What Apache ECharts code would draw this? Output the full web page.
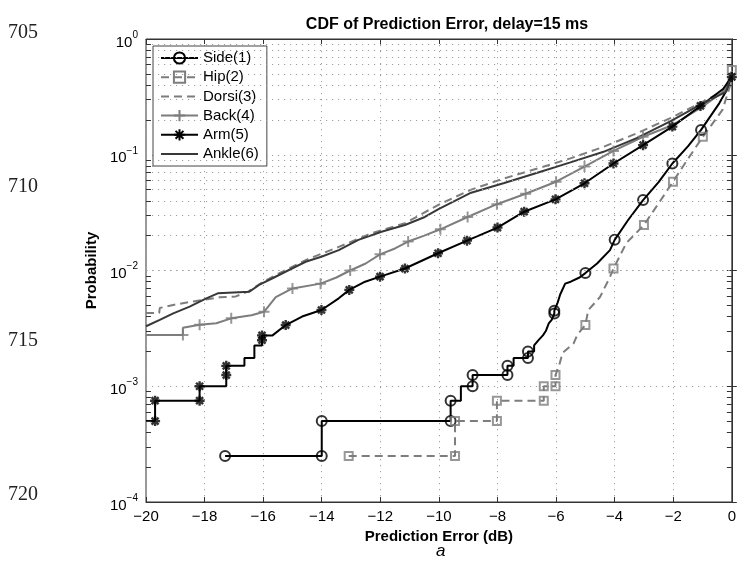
<!DOCTYPE html>
<html><head><meta charset="utf-8">
<script src="https://cdn.jsdelivr.net/npm/echarts@6/dist/echarts.min.js"></script>
<style>html,body{margin:0;padding:0;background:#fff}#c{width:739px;height:561px}</style>
</head><body><div id="c"></div>
<script>
// ---------- data (x = prediction error in dB, y = probability) ----------
const xTickValues = [-20,-18,-16,-14,-12,-10,-8,-6,-4,-2,0];
const yDecades = [1e-4,1e-3,1e-2,1e-1,1];
const lineNumbers = ['705','710','715','720'];

const sideLine = [[-17.3,2.5e-4],[-14.0,2.5e-4],[-14.0,5e-4],[-9.6,5e-4],[-9.6,7.5e-4],[-9.25,7.5e-4],[-9.25,1e-3],[-8.85,1e-3],[-8.85,1.25e-3],[-7.66,1.25e-3],[-7.66,1.5e-3],[-7.45,1.5e-3],[-7.45,1.75e-3],[-6.96,1.75e-3],[-6.96,2e-3],[-6.75,2e-3],[-6.75,2.25e-3],[-6.6,2.5e-3],[-6.45,2.75e-3],[-6.35,3e-3],[-6.25,3.5e-3],[-6.15,3.75e-3],[-6.06,4.25e-3],[-6.06,4.5e-3],[-5.95,5.25e-3],[-5.86,6.2e-3],[-5.69,7.7e-3],[-5.5,8e-3],[-5.2,8.7e-3],[-5.0,9.5e-3],[-4.6,1.15e-2],[-4.16,1.5e-2],[-4.0,1.84e-2],[-3.54,2.73e-2],[-3.03,4.06e-2],[-2.5,5.8e-2],[-2.03,8.4e-2],[-1.5,0.118],[-1.05,0.164],[-0.43,0.278],[-0.11,0.387],[0,0.52]];
const sideMarks = [[-17.3,2.5e-4],[-14,2.5e-4],[-14,5e-4],[-9.6,5e-4],[-9.6,7.5e-4],[-8.85,1e-3],[-8.85,1.25e-3],[-7.66,1.25e-3],[-7.66,1.5e-3],[-6.96,1.75e-3],[-6.96,2e-3],[-6.06,4.25e-3],[-6.06,4.5e-3],[-5.0,9.5e-3],[-4.0,1.84e-2],[-3.03,4.06e-2],[-2.03,8.4e-2],[-1.05,0.164]];

const hipLine = [[-13.08,2.5e-4],[-9.45,2.5e-4],[-9.45,5e-4],[-8.02,5e-4],[-8.02,7.5e-4],[-6.42,7.5e-4],[-6.42,1e-3],[-6.02,1e-3],[-6.02,1.25e-3],[-5.9,1.5e-3],[-5.78,1.94e-3],[-5.4,2.35e-3],[-5.28,2.77e-3],[-5.0,3.38e-3],[-4.9,4.55e-3],[-4.5,5.9e-3],[-4.16,8.8e-3],[-4.04,1.04e-2],[-3.6,1.73e-2],[-3.0,2.47e-2],[-2.5,3.8e-2],[-2.01,5.85e-2],[-1.5,9.2e-2],[-0.99,0.143],[-0.32,0.244],[-0.05,0.4],[0,0.54]];
const hipMarks = [[-13.08,2.5e-4],[-9.45,2.5e-4],[-9.45,5e-4],[-8.02,5e-4],[-8.02,7.5e-4],[-6.42,7.5e-4],[-6.42,1e-3],[-6.02,1e-3],[-6.02,1.25e-3],[-5.0,3.38e-3],[-4.04,1.04e-2],[-3.0,2.47e-2],[-2.01,5.85e-2],[-0.99,0.143],[0,0.54]];

const dorsiLine = [[-20,4.3e-3],[-19.55,4.3e-3],[-19.53,4.74e-3],[-19.07,5.04e-3],[-18.4,5.4e-3],[-17.49,5.87e-3],[-16.93,5.97e-3],[-16.5,6.6e-3],[-16.0,8.0e-3],[-15.46,9.46e-3],[-14.55,1.23e-2],[-13.42,1.6e-2],[-12.29,2.1e-2],[-11.16,2.56e-2],[-10.03,3.68e-2],[-8.9,5.0e-2],[-7.77,6.25e-2],[-6.64,7.6e-2],[-5.51,9.3e-2],[-4.38,0.117],[-3.25,0.153],[-2.12,0.206],[-0.99,0.287],[-0.25,0.36],[0,0.5]];

const backLine = [[-20,2.77e-3],[-18.74,2.77e-3],[-18.74,3.2e-3],[-18.17,3.4e-3],[-17.6,3.5e-3],[-17.09,3.86e-3],[-16.4,4.1e-3],[-15.97,4.4e-3],[-15.57,5.9e-3],[-15.0,7.0e-3],[-14.04,7.7e-3],[-13.5,8.7e-3],[-13.03,1.0e-2],[-12.5,1.15e-2],[-12.01,1.38e-2],[-11.5,1.55e-2],[-11.05,1.78e-2],[-10.5,2.0e-2],[-9.95,2.27e-2],[-9.02,2.9e-2],[-8.02,3.74e-2],[-7.04,4.6e-2],[-6.0,5.85e-2],[-5.03,7.9e-2],[-4.04,0.108],[-3.03,0.143],[-2.03,0.18],[-1.0,0.26],[-0.3,0.35],[0,0.5]];
const backMarks = [[-18.74,2.77e-3],[-18.17,3.4e-3],[-17.09,3.86e-3],[-15.97,4.4e-3],[-15.0,7.0e-3],[-14.04,7.7e-3],[-13.03,1.0e-2],[-12.01,1.38e-2],[-11.05,1.78e-2],[-9.95,2.27e-2],[-9.02,2.9e-2],[-8.02,3.74e-2],[-7.04,4.6e-2],[-6.0,5.85e-2],[-5.03,7.9e-2],[-4.04,0.108],[-3.03,0.143]];

const armLine = [[-20,5e-4],[-19.69,5e-4],[-19.69,7.5e-4],[-18.17,7.5e-4],[-18.17,1e-3],[-17.26,1e-3],[-17.26,1.5e-3],[-16.64,1.5e-3],[-16.64,1.75e-3],[-16.3,1.75e-3],[-16.3,2.25e-3],[-16.04,2.25e-3],[-16.04,2.75e-3],[-15.68,2.75e-3],[-15.23,3.38e-3],[-14.67,4e-3],[-14.01,4.56e-3],[-13.42,5.75e-3],[-13.06,6.8e-3],[-12.52,8e-3],[-12.01,8.85e-3],[-11.16,1.04e-2],[-10.03,1.41e-2],[-9.04,1.81e-2],[-8.0,2.35e-2],[-7.09,3.22e-2],[-6.02,4.12e-2],[-5.03,5.67e-2],[-4.04,8.4e-2],[-3.03,0.121],[-2.03,0.175],[-1.07,0.264],[-0.3,0.37],[0,0.47]];
const armMarks = [[-19.69,5e-4],[-19.69,7.5e-4],[-18.17,7.5e-4],[-18.17,1e-3],[-17.26,1.25e-3],[-17.26,1.5e-3],[-16.04,2.5e-3],[-16.04,2.75e-3],[-15.23,3.38e-3],[-14.01,4.56e-3],[-13.06,6.8e-3],[-12.01,8.85e-3],[-11.16,1.04e-2],[-10.03,1.41e-2],[-9.04,1.81e-2],[-8.0,2.35e-2],[-7.09,3.22e-2],[-6.02,4.12e-2],[-5.03,5.67e-2],[-4.04,8.4e-2],[-3.03,0.121],[-2.03,0.175],[-1.07,0.264],[0,0.47]];

const ankleLine = [[-20,3.3e-3],[-19.53,3.74e-3],[-19.07,4.26e-3],[-18.51,4.87e-3],[-17.94,5.75e-3],[-17.55,6.35e-3],[-16.47,6.56e-3],[-16.14,7.5e-3],[-15.68,8.57e-3],[-15.12,1.01e-2],[-14.55,1.19e-2],[-13.99,1.32e-2],[-13.42,1.5e-2],[-12.75,1.84e-2],[-11.96,2.16e-2],[-11.16,2.47e-2],[-10.48,2.9e-2],[-10.03,3.38e-2],[-8.9,4.7e-2],[-7.77,5.7e-2],[-6.64,7.0e-2],[-5.51,8.6e-2],[-4.38,0.106],[-3.25,0.139],[-2.12,0.193],[-0.99,0.278],[-0.2,0.35],[0,0.5]];

// ---------- styling / assembly ----------
const GRAY = '#7d7d7d';
const PLUS = 'path://M5,0L5,10M0,5L10,5';
const STAR = 'path://M5,0L5,10M0,5L10,5M1.5,1.5L8.5,8.5M1.5,8.5L8.5,1.5';
const defs = [
  {name:'Side(1)', line:sideLine, marks:sideMarks, color:'#000', type:'solid', symbol:'circle', size:10, bw:2},
  {name:'Hip(2)', line:hipLine, marks:hipMarks, color:GRAY, type:[8,5], symbol:'rect', size:8, bw:2},
  {name:'Dorsi(3)', line:dorsiLine, marks:null, color:GRAY, type:[8,5], symbol:'none', size:0, bw:0},
  {name:'Back(4)', line:backLine, marks:backMarks, color:GRAY, type:'solid', symbol:PLUS, size:11, bw:2},
  {name:'Arm(5)', line:armLine, marks:armMarks, color:'#000', type:'solid', symbol:STAR, size:10, bw:2.4},
  {name:'Ankle(6)', line:ankleLine, marks:null, color:'#383838', type:'solid', symbol:'none', size:0, bw:0}
];
const FONT = 'Liberation Sans, Arial, sans-serif';
const series = [];

// minor log grid + minor ticks (drawn through the y axis scale)
const minorVals = [];
for (let e = -4; e <= -1; e++) for (let k = 2; k <= 9; k++) minorVals.push(k * Math.pow(10, e));
const mlData = [];
minorVals.forEach(v => mlData.push({yAxis: v}));
minorVals.forEach(v => {
  mlData.push([{coord:[-20, v]}, {coord:[-19.83, v], lineStyle:{color:'#333', width:1, type:'solid'}}]);
  mlData.push([{coord:[0, v]}, {coord:[-0.17, v], lineStyle:{color:'#333', width:1, type:'solid'}}]);
});
series.push({type:'line', name:'__grid', data:[], silent:true, z:1,
  markLine:{silent:true, symbol:['none','none'], label:{show:false}, animation:false,
    lineStyle:{color:'#a0a0a0', width:1, type:[1.2,4.8]}, data: mlData}});

defs.forEach(d => {
  const transparent = 'rgba(0,0,0,0)';
  series.push({
    type:'line', name:d.name, data:d.line, showSymbol:false,
    symbol: d.symbol === 'none' ? 'circle' : d.symbol, symbolSize:d.size,
    lineStyle:{color:d.color, width:2, type:d.type},
    itemStyle:{color:transparent, borderColor: d.symbol === 'none' ? transparent : d.color, borderWidth:d.bw},
    emphasis:{disabled:true}, animation:false, z:3, clip:true
  });
  if (d.marks) {
    series.push({
      type:'scatter', name:d.name, data:d.marks, symbol:d.symbol, symbolSize:d.size,
      itemStyle:{color:transparent, borderColor:d.color, borderWidth:d.bw},
      emphasis:{disabled:true}, animation:false, z:4, silent:true
    });
  }
});

function supLabel(v){
  const e = Math.round(Math.log10(v));
  return '{b|10}{e|' + (e < 0 ? '\u2212' + (-e) : e) + '}';
}

const chart = echarts.init(document.getElementById('c'), null, {renderer:'canvas'});
chart.setOption({
  backgroundColor:'#fff',
  animation:false,
  textStyle:{fontFamily:FONT},
  title:{text:'CDF of Prediction Error, delay=15 ms', left:442, top:12, textAlign:'center',
    textStyle:{fontFamily:FONT, fontSize:16, fontWeight:'bold', color:'#000'}},
  legend:{data:defs.map(d => d.name), orient:'vertical', left:153, top:46,
    padding:[4,8,4,7], itemWidth:37, itemHeight:14, itemGap:3.2, selectedMode:false,
    borderColor:'#444', borderWidth:1, backgroundColor:'#fff',
    textStyle:{fontFamily:FONT, fontSize:15, lineHeight:16, color:'#000'}},
  grid:{left:146, right:3, top:39, bottom:59, show:true, borderColor:'#333', borderWidth:1, backgroundColor:'#fff'},
  xAxis:[
    {type:'value', min:-20, max:0, interval:2, position:'bottom',
     name:'Prediction Error (dB)', nameLocation:'middle', nameGap:27,
     nameTextStyle:{fontFamily:FONT, fontSize:15, fontWeight:'bold', color:'#000'},
     axisLine:{show:true, lineStyle:{color:'#333'}},
     axisTick:{show:true, inside:true, length:5, lineStyle:{color:'#333'}},
     axisLabel:{fontFamily:FONT, fontSize:15, color:'#000', margin:7,
       formatter: v => v < 0 ? '\u2212' + (-v) : String(v)},
     splitLine:{show:true, lineStyle:{color:'#a0a0a0', width:1, type:[1.2,4.8]}}},
    {type:'value', min:-20, max:0, interval:2, position:'top',
     axisLine:{show:true, lineStyle:{color:'#333'}},
     axisTick:{show:true, inside:true, length:5, lineStyle:{color:'#333'}},
     axisLabel:{show:false}, splitLine:{show:false}}
  ],
  yAxis:[
    {type:'log', logBase:10, min:1e-4, max:1, splitNumber:4, position:'left',
     name:'Probability', nameLocation:'middle', nameGap:30, nameRotate:90,
     nameTextStyle:{fontFamily:FONT, fontSize:15, fontWeight:'bold', color:'#000'},
     axisLine:{show:true, lineStyle:{color:'#333'}},
     axisTick:{show:true, inside:true, length:5, lineStyle:{color:'#333'}},
     axisLabel:{margin:8, formatter:supLabel,
       rich:{b:{fontFamily:FONT, fontSize:15, color:'#000', verticalAlign:'bottom', lineHeight:22},
             e:{fontFamily:FONT, fontSize:10, color:'#000', verticalAlign:'bottom', lineHeight:22, padding:[0,0,10,0]}}},
     splitLine:{show:true, lineStyle:{color:'#a0a0a0', width:1, type:[1.2,4.8]}}},
    {type:'log', logBase:10, min:1e-4, max:1, splitNumber:4, position:'right',
     axisLine:{show:true, lineStyle:{color:'#333'}},
     axisTick:{show:true, inside:true, length:5, lineStyle:{color:'#333'}},
     axisLabel:{show:false}, splitLine:{show:false}}
  ],
  graphic: lineNumbers.map((t, i) => ({type:'text', left:8, top:23 + i * 154,
      style:{text:t, font:'20px "Liberation Serif", serif', fill:'#222'}}))
    .concat([{type:'text', left:436, top:543, style:{text:'a', font:'italic 17px "Liberation Sans", Arial, sans-serif', fill:'#000'}}]),
  series: series
});
</script>
</body></html>
